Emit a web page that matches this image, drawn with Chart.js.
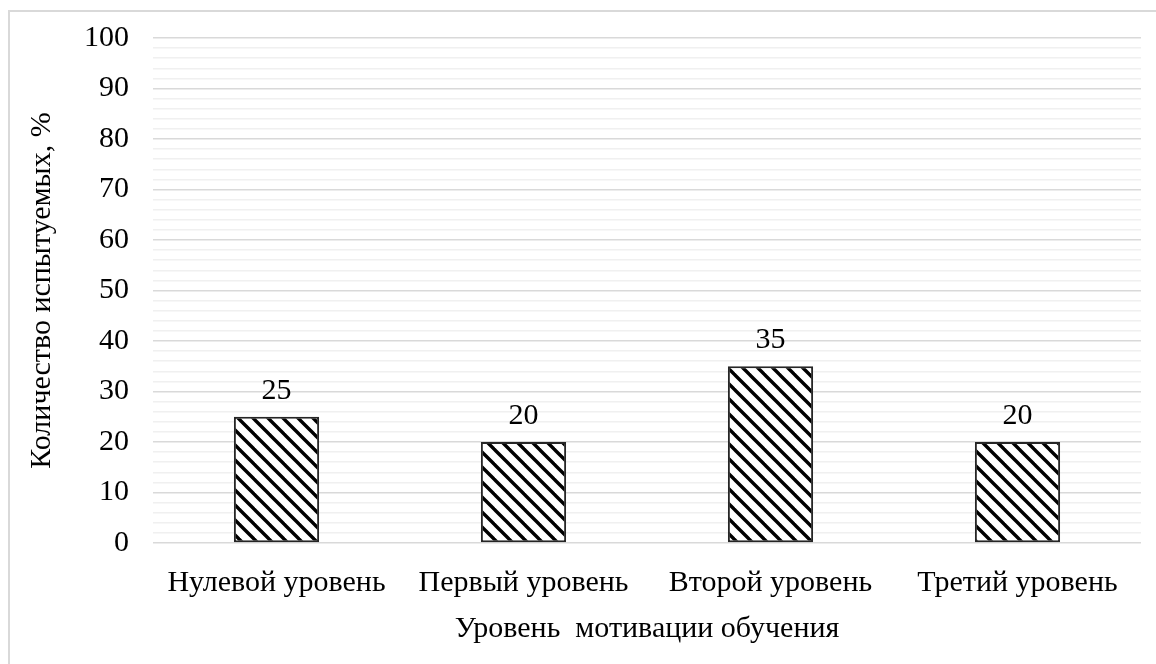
<!DOCTYPE html>
<html>
<head>
<meta charset="utf-8">
<script src="https://cdn.jsdelivr.net/npm/chart.js@4/dist/chart.umd.min.js"></script>
<style>
  html, body { margin: 0; padding: 0; background: #fff; }
  #wrap { width: 1156px; height: 664px; position: relative; }
</style>
</head>
<body>
<div id="wrap"><canvas id="c" width="1156" height="664"></canvas></div>
<script>
// Motivation levels and share of respondents, %
const categories = ['Нулевой уровень', 'Первый уровень', 'Второй уровень', 'Третий уровень'];
const values = [25, 20, 35, 20];
const yTickLabels = [0, 10, 20, 30, 40, 50, 60, 70, 80, 90, 100];
const xTitle = 'Уровень  мотивации обучения';
const yTitle = 'Количество испытуемых, %';

const FONT = "'Liberation Serif', 'Times New Roman', serif";
const FS = 30;

// Diagonal hatch fill (top-left to bottom-right stripes)
function makeHatch() {
  const size = 15;
  const p = document.createElement('canvas');
  p.width = size; p.height = size;
  const g = p.getContext('2d');
  g.fillStyle = '#ffffff';
  g.fillRect(0, 0, size, size);
  g.strokeStyle = '#000000';
  g.lineWidth = 3.4;
  g.lineCap = 'square';
  for (let k = -1; k <= 1; k++) {
    g.beginPath();
    g.moveTo(k * size - 2, -2);
    g.lineTo(k * size + size + 2, size + 2);
    g.stroke();
  }
  return g.createPattern(p, 'repeat');
}

// Light frame along the left and top edges
const framePlugin = {
  id: 'frame',
  beforeDraw(chart) {
    const ctx = chart.ctx;
    ctx.save();
    ctx.strokeStyle = '#d9d9d9';
    ctx.lineWidth = 2;
    ctx.beginPath();
    ctx.moveTo(9, chart.height);
    ctx.lineTo(9, 11);
    ctx.lineTo(chart.width, 11);
    ctx.stroke();
    ctx.restore();
  }
};

// Value labels above each bar
const valueLabels = {
  id: 'valueLabels',
  afterDatasetsDraw(chart) {
    const ctx = chart.ctx;
    const meta = chart.getDatasetMeta(0);
    ctx.save();
    ctx.font = FS + 'px ' + FONT;
    ctx.fillStyle = '#000';
    ctx.textAlign = 'center';
    ctx.textBaseline = 'middle';
    meta.data.forEach((bar, i) => {
      ctx.fillText(String(values[i]), bar.x, bar.y - 26);
    });
    ctx.restore();
  }
};

const ctx = document.getElementById('c').getContext('2d');
new Chart(ctx, {
  type: 'bar',
  data: {
    labels: categories,
    datasets: [{
      data: values,
      backgroundColor: makeHatch(),
      borderColor: '#262626',
      borderWidth: 2,
      borderSkipped: false,
      categoryPercentage: 1.0,
      barPercentage: 0.345
    }]
  },
  options: {
    responsive: false,
    animation: false,
    devicePixelRatio: 1,
    layout: { padding: { left: 8, right: 15, top: 38, bottom: 17 } },
    plugins: {
      legend: { display: false },
      tooltip: { enabled: false }
    },
    scales: {
      x: {
        grid: { display: false, drawTicks: false },
        border: { display: false },
        ticks: {
          color: '#000',
          font: { family: FONT, size: FS },
          padding: 22,
          maxRotation: 0,
          autoSkip: false
        },
        title: {
          display: true,
          text: xTitle,
          color: '#000',
          font: { family: FONT, size: FS },
          padding: { top: 4, bottom: 0 }
        },
        afterFit(s) { s.height = 104; }
      },
      y: {
        min: 0,
        max: 100,
        grid: {
          drawTicks: false,
          lineWidth: 1.5,
          color: c => (c.tick && yTickLabels.includes(c.tick.value)) ? '#d9d9d9' : '#f0f0f0'
        },
        border: { display: false },
        ticks: {
          stepSize: 2,
          autoSkip: false,
          color: '#000',
          font: { family: FONT, size: FS },
          padding: 24,
          callback: v => yTickLabels.includes(v) ? String(v) : ''
        },
        title: {
          display: true,
          text: yTitle,
          color: '#000',
          font: { family: FONT, size: FS },
          padding: { top: 16, bottom: 0 }
        },
        afterFit(s) { s.width = 145; s.paddingTop = 0; s.paddingBottom = 0; }
      }
    }
  },
  plugins: [framePlugin, valueLabels]
});
</script>
</body>
</html>
